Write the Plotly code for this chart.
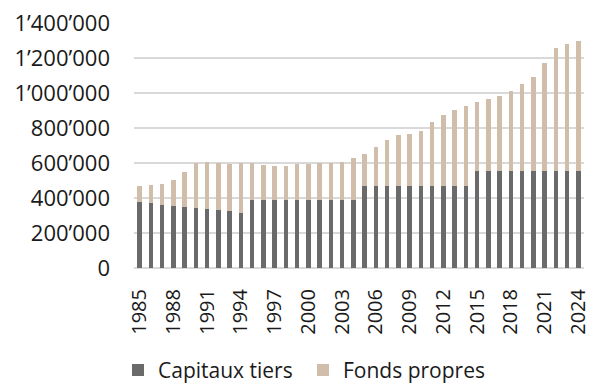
import plotly.graph_objects as go

# Balance-sheet structure by year (CHF thousands)
years = list(range(1985, 2025))

capitaux_tiers = [
    375000, 369000, 360000, 354000, 348000, 342000, 337000, 331000, 325000, 317000,
    390000, 390000, 390000, 390000, 390000, 390000, 390000, 390000, 390000, 390000,
    470000, 470000, 470000, 470000, 470000, 470000, 470000, 470000, 470000, 470000,
    552000, 552000, 552000, 552000, 552000, 552000, 552000, 552000, 552000, 552000,
]

totals = [
    469000, 475000, 481000, 504000, 550000, 598000, 604000, 602000, 592000, 598000,
    600000, 587000, 585000, 581000, 592000, 594000, 600000, 602000, 608000, 631000,
    650000, 690000, 733000, 758000, 764000, 783000, 832000, 874000, 901000, 924000,
    950000, 964000, 981000, 1013000, 1050000, 1093000, 1170000, 1259000, 1280000, 1297000,
]

fonds_propres = [t - c for t, c in zip(totals, capitaux_tiers)]

y_ticks = [0, 200000, 400000, 600000, 800000, 1000000, 1200000, 1400000]
y_tick_labels = ["0", "200’000", "400’000", "600’000", "800’000",
                 "1’000’000", "1’200’000", "1’400’000"]
x_tick_years = list(range(1985, 2025, 3))

cats = [str(y) for y in years]

fig = go.Figure()
fig.add_trace(go.Bar(x=cats, y=capitaux_tiers, name="Capitaux tiers",
                     marker=dict(color="#6a6a6a", line=dict(width=0))))
fig.add_trace(go.Bar(x=cats, y=fonds_propres, name="Fonds propres",
                     marker=dict(color="#d0bdaa", line=dict(width=0))))

font_family = "Open Sans, Noto Sans, sans-serif"

fig.update_layout(
    barmode="stack",
    bargap=0.58,
    width=590, height=385,
    margin=dict(l=134, r=6, t=23, b=117),
    paper_bgcolor="white",
    plot_bgcolor="white",
    font=dict(family=font_family, size=22, color="#1a1a1a"),
    showlegend=True,
    legend=dict(orientation="h",
                xref="container", x=0.2, xanchor="left",
                yref="container", y=0.038, yanchor="middle",
                font=dict(size=21), itemwidth=30, traceorder="normal",
                entrywidth=140, bgcolor="rgba(0,0,0,0)"),
    xaxis=dict(
        type="category",
        tickmode="array",
        tickvals=[str(y) for y in x_tick_years],
        ticktext=[str(y) for y in x_tick_years],
        tickangle=-90,
        showgrid=False,
        showline=False,
        ticks="",
        ticklabelstandoff=16,
        automargin=False,
        tickfont=dict(size=20),
    ),
    yaxis=dict(
        range=[0, 1400000],
        tickmode="array",
        tickvals=y_ticks,
        ticktext=y_tick_labels,
        showgrid=True,
        gridcolor="#d9d9d9",
        gridwidth=2,
        zeroline=True,
        zerolinecolor="#d9d9d9",
        zerolinewidth=2,
        showline=False,
        ticks="",
        ticklabelstandoff=23,
        automargin=False,
        tickfont=dict(size=22),
    ),
)

fig.write_html("out.html")
